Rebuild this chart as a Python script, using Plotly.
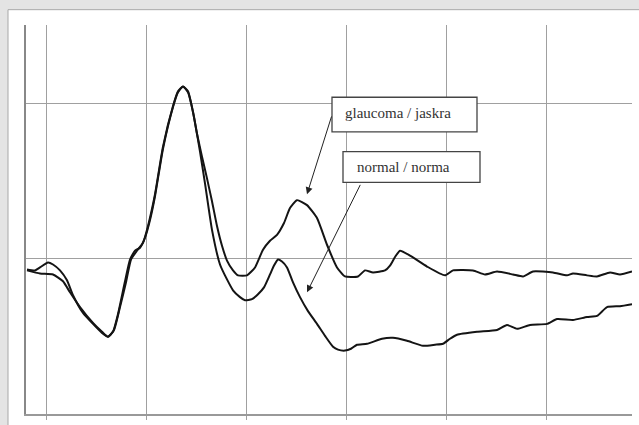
import plotly.graph_objects as go

# ---- data (time, amplitude) ----
glaucoma_t = [-19, -11, -6, 2, 7, 14, 21, 27, 37, 47, 56, 62, 67, 72, 79, 84, 89, 94, 99, 104,
              109, 117, 127, 132, 137, 142, 147, 151, 156, 161, 166, 171, 176, 181, 187, 192,
              201, 209, 217, 224, 231, 238, 244, 251, 261, 271, 281, 291, 299, 312, 319, 327,
              339, 344, 349, 354, 364, 381, 399, 407, 427, 439, 451, 467, 477, 487, 507, 521,
              527, 541, 551, 564, 574, 586]
glaucoma_v = [-0.70, -0.76, -0.57, -0.25, -0.38, -0.76, -1.40, -2.36, -3.50, -4.20, -4.78, -5.03,
              -4.71, -3.57, -1.46, -0.06, 0.51, 0.70, 1.34, 2.48, 4.01, 7.07, 9.75, 10.70, 11.08,
              10.76, 9.43, 8.03, 6.56, 5.16, 3.69, 2.10, 0.83, -0.13, -0.76, -1.08, -1.08, -0.57,
              0.57, 1.15, 1.53, 2.29, 3.25, 3.76, 3.44, 2.61, 0.89, -0.57, -1.15, -1.15, -0.76,
              -0.89, -0.76, -0.45, 0.10, 0.51, 0.19, -0.51, -1.08, -0.76, -0.76, -1.02, -0.83,
              -1.02, -1.15, -0.83, -0.89, -1.08, -0.96, -1.08, -1.15, -0.89, -1.02, -0.83]

normal_t = [-19, -6, 7, 17, 24, 34, 47, 56, 62, 68, 74, 80, 85, 91, 97, 102, 109, 117, 127, 132,
            137, 142, 147, 154, 159, 166, 174, 181, 187, 194, 199, 206, 212, 218, 224, 228, 232,
            236, 241, 247, 254, 262, 271, 279, 287, 292, 299, 305, 311, 321, 336, 347, 361, 377,
            389, 397, 404, 411, 431, 451, 461, 471, 484, 501, 511, 527, 541, 551, 561, 574, 586]
normal_v = [-0.76, -0.96, -1.02, -1.46, -2.17, -3.12, -4.14, -4.71, -5.03, -4.59, -3.12, -1.53,
            -0.06, 0.51, 1.02, 2.10, 4.14, 7.20, 9.81, 10.76, 11.08, 10.70, 9.43, 6.88, 4.84,
            1.85, -0.38, -1.34, -2.04, -2.48, -2.68, -2.61, -2.29, -1.85, -1.02, -0.45, -0.06,
            -0.19, -0.57, -1.53, -2.48, -3.38, -4.20, -4.97, -5.67, -5.86, -5.92, -5.80, -5.54,
            -5.48, -5.16, -5.10, -5.29, -5.61, -5.54, -5.48, -5.16, -4.90, -4.71, -4.59, -4.27,
            -4.52, -4.27, -4.20, -3.89, -3.95, -3.76, -3.69, -3.12, -3.06, -2.93]

labels = ["glaucoma / jaskra", "normal / norma"]
label_x = [297, 309]
label_y = [9.36, 5.92]
box_x0 = [286, 297]
box_x1 = [431, 434]
box_y0 = [8.15, 4.90]
box_y1 = [10.38, 6.88]
arrow_head_x = [261, 261]
arrow_head_y = [4.14, -2.17]
arrow_tail_x = [286, 315]
arrow_tail_y = [9.24, 4.84]

fig = go.Figure()
for t, v, name in [(glaucoma_t, glaucoma_v, labels[0]), (normal_t, normal_v, labels[1])]:
    fig.add_trace(go.Scatter(x=t, y=v, mode="lines", name=name,
                             line=dict(color="#141414", width=2, shape="spline", smoothing=0.5),
                             showlegend=False, hoverinfo="skip"))

shapes = [
    # page frame (paper with shadow)
    dict(type="rect", xref="paper", yref="paper", x0=-0.0297, x1=1.03, y0=-0.04, y1=1.0394,
         fillcolor="white", line=dict(color="#a8a8a8", width=1), layer="below"),
]
for i in range(2):
    shapes.append(dict(type="rect", xref="x", yref="y", x0=box_x0[i], x1=box_x1[i],
                       y0=box_y0[i], y1=box_y1[i], fillcolor="white",
                       line=dict(color="#444", width=1.3), layer="above"))
fig.update_layout(shapes=shapes)

for i in range(2):
    fig.add_annotation(x=label_x[i], y=label_y[i], xref="x", yref="y", text=labels[i],
                       showarrow=False, xanchor="left", yanchor="middle",
                       font=dict(family="Liberation Serif", size=15, color="#333"))
    fig.add_annotation(x=arrow_head_x[i], y=arrow_head_y[i], ax=arrow_tail_x[i],
                       ay=arrow_tail_y[i], xref="x", yref="y", axref="x", ayref="y",
                       text="", showarrow=True, arrowhead=2, arrowsize=1.4, arrowwidth=1,
                       arrowcolor="#222", standoff=0)

fig.update_layout(
    width=639, height=425,
    margin=dict(l=26, r=7, t=25, b=7),
    paper_bgcolor="#e4e4e4", plot_bgcolor="white",
    xaxis=dict(range=[-20, 586], tick0=0, dtick=100, showgrid=True, gridcolor="#a0a0a0",
               gridwidth=1.3, zeroline=False, showticklabels=False, ticks="outside",
               ticklen=4, tickcolor="#a0a0a0", showline=True, linecolor="#999", linewidth=1.5),
    yaxis=dict(range=[-10, 15.03], tick0=0, dtick=10, showgrid=True, gridcolor="#a0a0a0",
               gridwidth=1.3, zeroline=False, showticklabels=False, ticks="",
               showline=True, linecolor="#888", linewidth=1.5),
)

fig.write_html("out.html", config={"displayModeBar": False},
               post_script="document.body.style.margin='0';")
